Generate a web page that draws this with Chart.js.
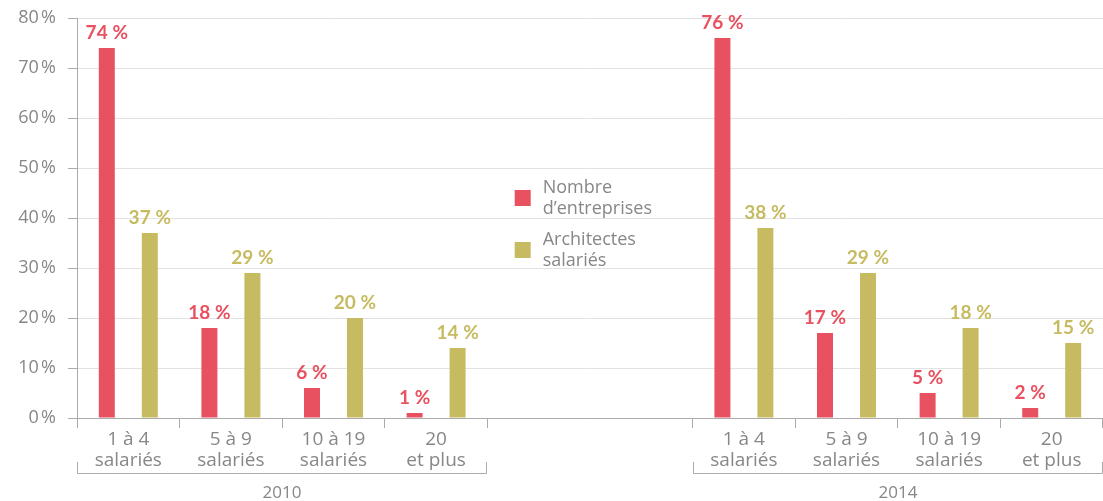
<!DOCTYPE html>
<html lang="fr">
<head>
    <meta charset="UTF-8">
    <title>Entreprises d'architecture par taille</title>
    <script src="https://cdn.jsdelivr.net/npm/chart.js"></script>
    <style>
        body { margin: 0; background: #fff; }
    </style>
</head>
<body>
<canvas id="tailleChart" width="1103" height="501"></canvas>

<script>
    // Tranches d'effectif, répétées pour chaque année
    const tranches = [['1 à 4', 'salariés'], ['5 à 9', 'salariés'], ['10 à 19', 'salariés'], ['20', 'et plus']];
    const annees = ['2010', '2014'];

    // Part des entreprises / des architectes salariés (%)
    const entreprises2010 = [74, 18, 6, 1];
    const entreprises2014 = [76, 17, 5, 2];
    const architectes2010 = [37, 29, 20, 14];
    const architectes2014 = [38, 29, 18, 15];

    const nomsSeries = [['Nombre', 'd’entreprises'], ['Architectes', 'salariés']];
    const couleurs = ['#e8515f', '#c7bb62'];
    const grisTexte = '#878787';
    const grisAxe = '#ababab';

    // deux cases vides entre les années pour loger la légende
    const vide = ['', ''];
    const labels = [...tranches, ...vide, ...tranches];
    const serieEntreprises = [...entreprises2010, null, null, ...entreprises2014];
    const serieArchitectes = [...architectes2010, null, null, ...architectes2014];

    const pct = v => v + '\u202f%';

    // étiquettes de valeur au-dessus des barres
    const valeursPlugin = {
        id: 'valeurs',
        afterDatasetsDraw(chart) {
            const ctx = chart.ctx;
            ctx.save();
            ctx.font = 'bold 19px Lato';
            ctx.textAlign = 'center';
            ctx.textBaseline = 'bottom';
            chart.data.datasets.forEach((ds, i) => {
                ctx.fillStyle = ds.backgroundColor;
                chart.getDatasetMeta(i).data.forEach((bar, j) => {
                    const v = ds.data[j];
                    if (v == null) return;
                    ctx.fillText(pct(v), bar.x, bar.y - 6);
                });
            });
            ctx.restore();
        }
    };

    // légende au centre, entre les deux années
    const legendePlugin = {
        id: 'legendeCentre',
        afterDraw(chart) {
            const ctx = chart.ctx;
            const x = chart.scales.x;
            const area = chart.chartArea;
            const bx = x.getPixelForValue(4) - 24;
            ctx.save();
            ctx.font = '18px "Open Sans"';
            ctx.textBaseline = 'middle';
            chart.data.datasets.forEach((ds, i) => {
                const cy = area.top + 180 + i * 52;
                ctx.fillStyle = ds.backgroundColor;
                ctx.fillRect(bx, cy - 8, 16, 16);
                ctx.fillStyle = grisTexte;
                const lignes = nomsSeries[i];
                lignes.forEach((l, k) => {
                    ctx.fillText(l, bx + 28, cy - 10 + k * 21);
                });
            });
            ctx.restore();
        }
    };

    // accolades des années sous l'axe des x
    const anneesPlugin = {
        id: 'annees',
        afterDraw(chart) {
            const ctx = chart.ctx;
            const x = chart.scales.x;
            const bas = chart.chartArea.bottom;
            const demi = (x.getPixelForValue(1) - x.getPixelForValue(0)) / 2;
            ctx.save();
            ctx.strokeStyle = grisAxe;
            ctx.lineWidth = 1;
            ctx.fillStyle = grisTexte;
            ctx.font = '17px "Open Sans"';
            ctx.textAlign = 'center';
            ctx.textBaseline = 'middle';
            annees.forEach((an, g) => {
                const debut = g * (tranches.length + vide.length);
                const gauche = Math.round(x.getPixelForValue(debut) - demi) + 0.5;
                const droite = Math.round(x.getPixelForValue(debut + tranches.length - 1) + demi) - 0.5;
                const y = bas + 55.5;
                ctx.beginPath();
                ctx.moveTo(gauche, bas + 44);
                ctx.lineTo(gauche, y);
                ctx.lineTo(droite, y);
                ctx.lineTo(droite, bas + 44);
                ctx.stroke();
                ctx.fillText(an, (gauche + droite) / 2, bas + 75);
            });
            ctx.restore();
        }
    };

    new Chart(document.getElementById('tailleChart'), {
        type: 'bar',
        data: {
            labels: labels,
            datasets: [
                {
                    label: nomsSeries[0].join(' '),
                    data: serieEntreprises,
                    backgroundColor: couleurs[0]
                },
                {
                    label: nomsSeries[1].join(' '),
                    data: serieArchitectes,
                    backgroundColor: couleurs[1]
                }
            ]
        },
        options: {
            responsive: false,
            animation: false,
            categoryPercentage: 0.838,
            barPercentage: 0.372,
            layout: { padding: { top: 18, right: 0, left: 0, bottom: 0 } },
            plugins: {
                legend: { display: false },
                tooltip: { enabled: false }
            },
            scales: {
                x: {
                    afterFit(scale) { scale.height = 83; },
                    grid: {
                        offset: true,
                        drawOnChartArea: false,
                        tickLength: 10,
                        color: ctx => (ctx.index === 5 ? 'rgba(0,0,0,0)' : grisAxe)
                    },
                    border: { color: grisAxe },
                    ticks: {
                        autoSkip: false,
                        maxRotation: 0,
                        padding: 1,
                        color: grisTexte,
                        font: { family: 'Open Sans', size: 19, lineHeight: 1.1 }
                    }
                },
                y: {
                    min: 0,
                    max: 80,
                    afterFit(scale) {
                        scale.width = 77;
                        scale.paddingTop = 0;
                        scale.paddingBottom = 0;
                    },
                    grid: {
                        color: ctx => (ctx.tick && ctx.tick.value === 0 ? grisAxe : '#e2e2e2'),
                        tickColor: grisAxe,
                        tickLength: 9
                    },
                    border: { color: grisAxe },
                    ticks: {
                        stepSize: 10,
                        padding: 12,
                        color: grisTexte,
                        font: { family: 'Open Sans', size: 18 },
                        callback: v => pct(v)
                    }
                }
            }
        },
        plugins: [valeursPlugin, legendePlugin, anneesPlugin]
    });
</script>
</body>
</html>
